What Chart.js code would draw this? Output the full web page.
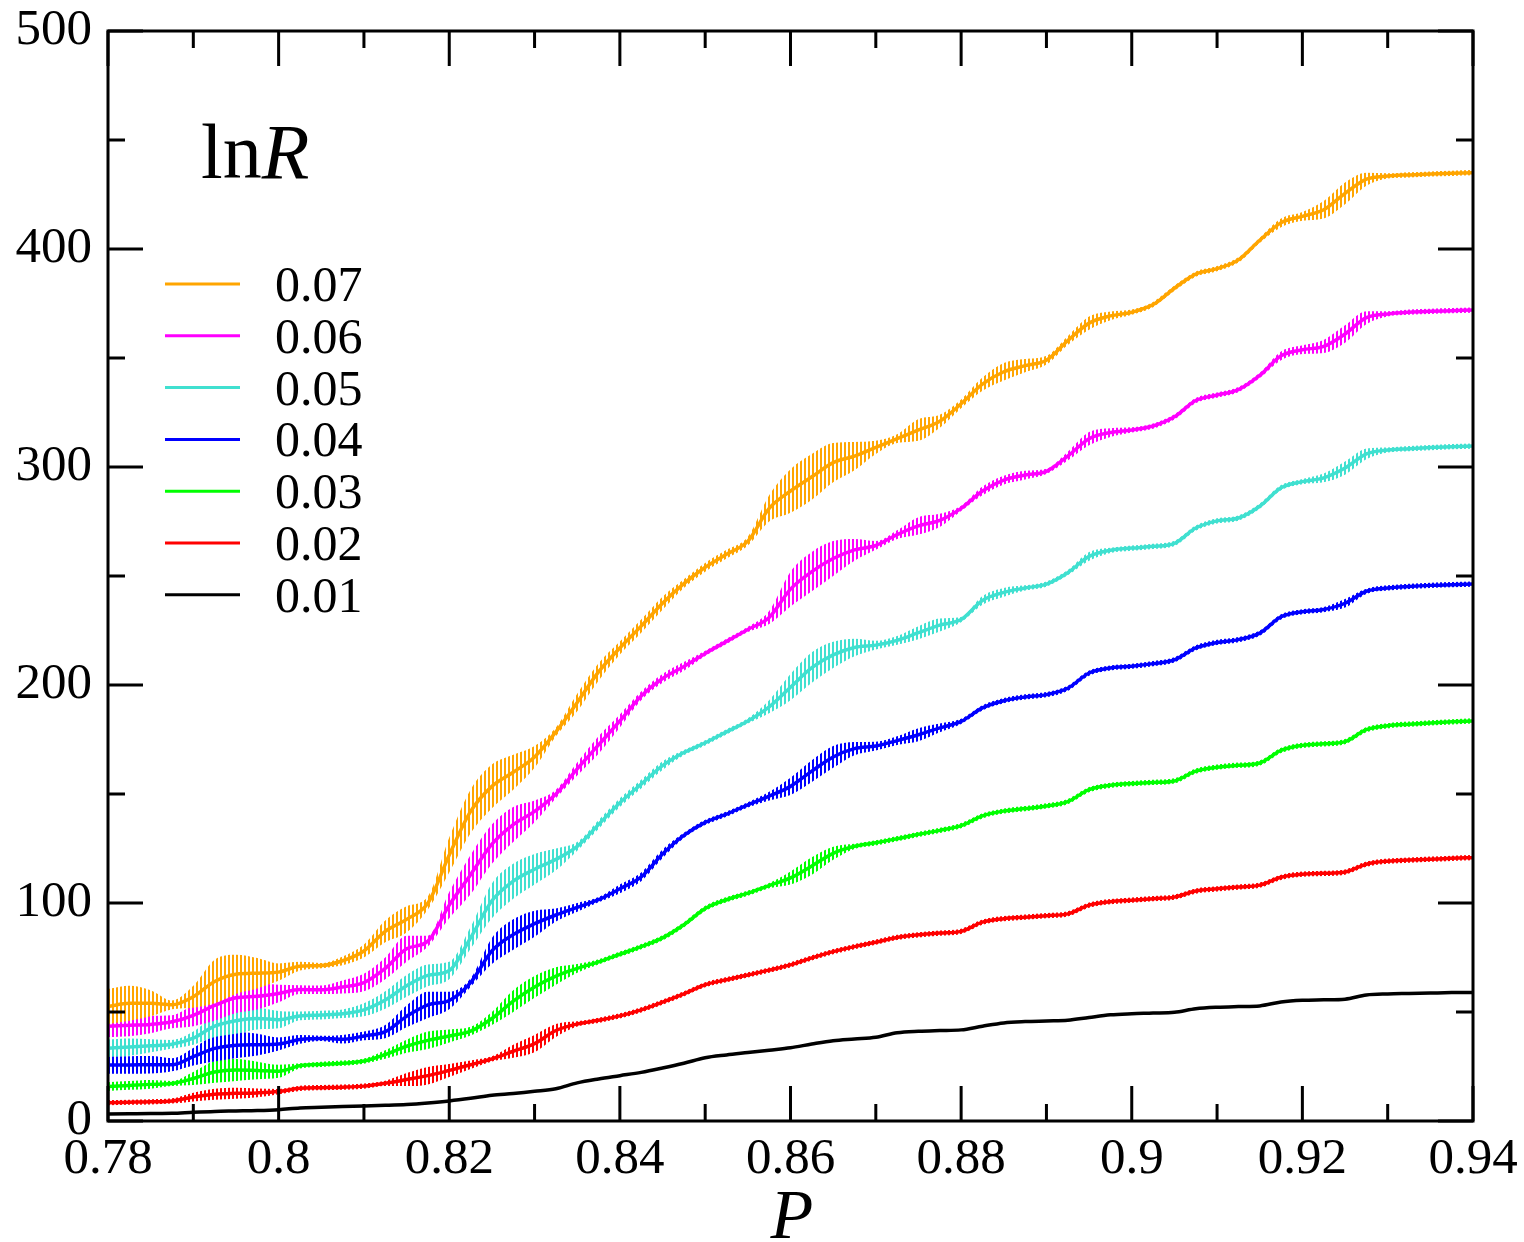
<!DOCTYPE html>
<html>
<head>
<meta charset="utf-8">
<title>lnR vs P</title>
<script src="https://cdn.jsdelivr.net/npm/chart.js@4.4.1/dist/chart.umd.min.js"></script>
<style>
    html, body { margin: 0; padding: 0; background: #fff; }
    #lnrChart { display: block; }
</style>
</head>
<body>
<canvas id="lnrChart" width="1524" height="1242"></canvas>
<script>
// P sample positions
const pValues = [
    0.78, 0.7825, 0.785, 0.7875, 0.79, 0.7925, 0.795, 0.7975, 0.8, 0.8025,
    0.805, 0.8075, 0.81, 0.8125, 0.815, 0.8175, 0.82, 0.8225, 0.825, 0.8275,
    0.83, 0.8325, 0.835, 0.8375, 0.84, 0.8425, 0.845, 0.8475, 0.85, 0.8525,
    0.855, 0.8575, 0.86, 0.8625, 0.865, 0.8675, 0.87, 0.8725, 0.875, 0.8775,
    0.88, 0.8825, 0.885, 0.8875, 0.89, 0.8925, 0.895, 0.8975, 0.9, 0.9025,
    0.905, 0.9075, 0.91, 0.9125, 0.915, 0.9175, 0.92, 0.9225, 0.925, 0.9275,
    0.93, 0.9325, 0.935, 0.9375, 0.94
];

// lnR for each value of the parameter
const lnR001 = [
    3.2, 3.3, 3.4, 3.5, 4.0, 4.4, 4.6, 4.8, 5.2, 6.0,
    6.3, 6.6, 6.9, 7.2, 7.6, 8.3, 9.2, 10.4, 11.8, 12.6,
    13.6, 14.8, 17.5, 19.3, 20.8, 22.3, 24.3, 26.5, 29.0, 30.3,
    31.4, 32.5, 33.6, 35.3, 36.8, 37.6, 38.4, 40.5, 41.2, 41.5,
    41.8, 43.5, 45.0, 45.6, 45.9, 46.2, 47.5, 48.7, 49.2, 49.5,
    49.9, 51.5, 52.2, 52.5, 52.8, 54.6, 55.4, 55.6, 55.9, 57.8,
    58.3, 58.5, 58.7, 58.9, 59.0
];
const lnR002 = [
    8.4, 8.6, 8.8, 9.2, 11.0, 12.3, 12.7, 12.9, 13.5, 15.0,
    15.3, 15.5, 16.0, 17.3, 19.0, 20.8, 23.2, 25.8, 28.5, 32.0,
    35.5, 41.5, 44.5, 46.2, 48.2, 51.0, 54.5, 58.3, 62.5, 64.8,
    67.0, 69.2, 71.6, 74.8, 77.7, 80.0, 82.0, 84.2, 85.4, 86.2,
    87.0, 91.2, 92.8, 93.5, 94.2, 95.0, 99.0, 100.6, 101.3, 102.0,
    102.7, 105.5, 106.5, 107.3, 108.2, 111.8, 113.2, 113.6, 114.2, 117.8,
    119.2, 119.7, 120.1, 120.5, 120.8
];
const lnR003 = [
    15.8, 16.3, 16.8, 17.2, 19.5, 22.5, 23.4, 23.2, 22.8, 25.3,
    26.0, 26.5, 27.5, 30.5, 34.3, 37.0, 39.0, 41.2, 47.0, 55.0,
    61.5, 66.5, 70.0, 73.0, 76.5, 80.0, 84.0, 90.0, 97.5, 101.5,
    104.5, 108.0, 111.5, 117.0, 122.8, 126.0, 127.6, 129.5, 131.5, 133.3,
    135.5, 140.0, 142.2, 143.3, 144.5, 146.5, 152.0, 154.0, 154.8, 155.3,
    156.0, 160.5, 162.3, 163.2, 164.2, 170.0, 172.3, 173.0, 174.0, 179.5,
    181.3, 182.0, 182.6, 183.1, 183.5
];
const lnR004 = [
    25.7, 25.7, 25.8, 25.8, 29.5, 33.3, 34.8, 35.0, 35.3, 37.4,
    37.9, 37.5, 39.0, 41.0, 48.0, 53.3, 55.3, 63.5, 78.0, 85.5,
    90.5, 94.5, 98.0, 101.5, 106.5, 112.0, 122.5, 131.0, 137.0, 140.8,
    145.0, 149.0, 153.5, 160.5, 167.0, 170.8, 172.0, 174.5, 177.2, 180.3,
    183.3, 189.5, 192.8, 194.5, 195.6, 198.5, 205.5, 207.8, 208.6, 209.8,
    211.5, 217.0, 219.5, 220.8, 223.8, 231.3, 233.6, 234.6, 237.5, 243.0,
    244.5, 245.2, 245.7, 246.0, 246.3
];
const lnR005 = [
    33.4, 33.9, 34.5, 35.2, 38.0, 43.5, 46.0, 47.0, 46.5, 48.2,
    48.6, 49.2, 51.0, 55.5, 62.0, 66.8, 69.0, 84.0, 101.0, 110.0,
    115.5, 120.0, 126.0, 136.0, 146.0, 154.5, 163.0, 169.0, 173.5, 178.5,
    183.5, 190.0, 199.0, 208.0, 213.8, 217.2, 218.3, 220.5, 224.0, 227.5,
    230.0, 238.8, 242.5, 244.5, 246.3, 251.5, 259.0, 261.8, 262.8, 263.6,
    265.0, 272.0, 275.3, 276.6, 282.0, 290.5, 293.3, 295.0, 299.5, 306.0,
    307.8, 308.4, 308.9, 309.3, 309.6
];
const lnR006 = [
    43.5, 43.9, 44.3, 45.5, 48.5, 53.0, 56.5, 57.2, 58.5, 60.3,
    60.2, 61.5, 63.5, 70.0, 79.0, 82.5, 99.0, 113.0, 127.0, 136.0,
    142.0, 150.0, 161.5, 172.5, 183.5, 195.0, 203.0, 208.5, 214.5, 220.0,
    225.5, 231.0, 244.0, 252.0, 258.0, 262.0, 264.0, 269.0, 273.0, 275.5,
    281.0, 289.0, 294.0, 296.3, 298.0, 305.0, 313.0, 315.8, 317.0, 318.8,
    323.0, 330.5, 333.0, 335.5, 342.0, 351.0, 353.8, 355.3, 361.0, 368.5,
    370.2, 371.0, 371.4, 371.7, 372.0
];
const lnR007 = [
    52.5, 54.0, 54.0, 53.3, 57.0, 64.0, 67.3, 67.8, 68.3, 71.0,
    71.3, 73.5, 78.0, 87.0, 92.5, 100.0, 122.0, 142.0, 153.5, 160.0,
    167.0, 178.5, 192.0, 206.0, 217.0, 227.0, 237.5, 246.5, 254.0, 260.0,
    266.0, 281.0, 289.0, 295.5, 302.0, 305.0, 309.0, 313.0, 317.0, 321.0,
    329.0, 338.0, 343.7, 346.5, 349.0, 358.0, 366.0, 369.3, 371.0, 374.5,
    382.0, 388.5, 391.0, 395.0, 404.0, 412.0, 415.0, 418.0, 425.5, 432.0,
    433.5, 434.0, 434.4, 434.7, 435.0
];

// half height of the oscillation band around each curve
const band002 = [
    1.2, 1.2, 1.2, 1.2, 2, 2.5, 2.5, 2, 1.2, 1.2,
    1.2, 1.2, 1.2, 1.2, 3, 4, 3, 2, 1.2, 3,
    4, 3, 1.2, 1.2, 1.2, 1.2, 1.2, 1.2, 1.2, 1.2,
    1.2, 1.2, 1.2, 1.2, 1.2, 1.2, 1.2, 1.2, 1.2, 1.2,
    1.2, 1.2, 1.2, 1.2, 1.2, 1.2, 1.2, 1.2, 1.2, 1.2,
    1.2, 1.2, 1.2, 1.2, 1.2, 1.2, 1.2, 1.2, 1.2, 1.2,
    1.2, 1.2, 1.2, 1.2, 1.2
];
const band003 = [
    2, 2, 2, 1.2, 3, 5, 5, 4, 3, 1.2,
    1.2, 1.2, 1.2, 2, 3, 4, 3, 2, 3, 5,
    5, 4, 2, 1.2, 1.2, 1.2, 1.2, 1.2, 1.2, 1.2,
    1.2, 1.2, 3, 4, 3, 1.2, 1.2, 1.2, 1.2, 1.2,
    1.2, 1.2, 1.2, 1.2, 1.2, 1.2, 1.2, 1.2, 1.2, 1.2,
    1.2, 1.2, 1.2, 1.2, 1.2, 1.2, 1.2, 1.2, 1.2, 1.2,
    1.2, 1.2, 1.2, 1.2, 1.2
];
const band004 = [
    4, 4, 4, 3, 4, 6, 6, 5, 3, 2,
    1.2, 2, 2, 3, 5, 6, 4, 2, 6, 7,
    6, 3, 2, 1.2, 2, 2, 2, 1.2, 1.2, 1.2,
    1.2, 2, 4, 5, 5, 3, 2, 2, 3, 2,
    1.2, 1.2, 1.2, 1.2, 1.2, 1.2, 1.2, 1.2, 1.2, 1.2,
    1.2, 1.2, 1.2, 1.2, 1.2, 1.2, 1.2, 1.2, 2, 1.2,
    1.2, 1.2, 1.2, 1.2, 1.2
];
const band005 = [
    4, 4, 3, 2, 3, 5, 6, 5, 4, 2,
    2, 2, 3, 4, 5, 5, 4, 5, 8, 8,
    7, 5, 2, 2, 2, 2, 2, 1.2, 1.2, 1.2,
    1.2, 3, 6, 7, 6, 4, 2, 2, 3, 3,
    1.2, 2, 2, 1.2, 1.2, 1.2, 2, 1.2, 1.2, 1.2,
    1.2, 1.2, 1.2, 1.2, 1.2, 1.2, 1.2, 2, 3, 2.5,
    1.2, 1.2, 1.2, 1.2, 1.2
];
const band006 = [
    5, 5, 4, 3, 5, 7, 7, 6, 4, 2,
    2, 3, 4, 5, 6, 2.5, 6, 9, 9, 8,
    5, 2, 3, 4, 3, 2, 2, 2, 1.2, 1.2,
    1.2, 3, 8, 9, 8, 5, 2, 2, 4, 3,
    1.2, 2, 2, 2, 1.2, 2, 3, 2, 1.2, 1.2,
    1.2, 1.2, 1.2, 1.2, 1.2, 2, 2, 3, 4, 3,
    1.2, 1.2, 1.2, 1.2, 1.2
];
const band007 = [
    8, 8, 6, 2, 5, 10, 9, 7, 4, 2,
    1.2, 2, 3, 5, 6, 3, 8, 10, 10, 8,
    5, 2, 4, 4, 3, 3, 3, 2, 2, 2,
    2, 6, 10, 10.5, 9, 6.5, 3, 2, 5, 3,
    2, 3, 4, 3, 2, 2, 3, 2, 1.2, 1.2,
    1.2, 1.2, 1.2, 1.2, 1.2, 2, 2, 4, 5, 3,
    1.2, 1.2, 1.2, 1.2, 1.2
];

const seriesLabels = ['0.07', '0.06', '0.05', '0.04', '0.03', '0.02', '0.01'];
const seriesColors = ['#ffa500', '#ff00ff', '#40e0d0', '#0000ff', '#00ff00', '#ff0000', '#000000'];
const seriesValues = [lnR007, lnR006, lnR005, lnR004, lnR003, lnR002, lnR001];
const seriesBands = [band007, band006, band005, band004, band003, band002, null];

const xTickValues = [0.78, 0.8, 0.82, 0.84, 0.86, 0.88, 0.9, 0.92, 0.94];
const xTickLabels = ['0.78', '0.8', '0.82', '0.84', '0.86', '0.88', '0.9', '0.92', '0.94'];
const xMinorValues = [0.79, 0.81, 0.83, 0.85, 0.87, 0.89, 0.91, 0.93];
const yTickValues = [0, 100, 200, 300, 400, 500];
const yTickLabels = ['0', '100', '200', '300', '400', '500'];
const yMinorValues = [50, 150, 250, 350, 450];

const serif = '"Liberation Serif", "Times New Roman", serif';

function stripePattern(color) {
    // thin vertical strokes, like the dense oscillation in the original
    const c = document.createElement('canvas');
    c.width = 4;
    c.height = 4;
    const g = c.getContext('2d');
    g.fillStyle = color;
    g.fillRect(0, 0, 2, 4);
    return g.createPattern(c, 'repeat');
}

function buildDatasets() {
    const datasets = [];
    seriesLabels.forEach((label, k) => {
        const vals = seriesValues[k];
        const band = seriesBands[k];
        datasets.push({
            label: label,
            data: pValues.map((p, i) => ({ x: p, y: vals[i] })),
            borderColor: seriesColors[k],
            borderWidth: 3.5,
            pointRadius: 0,
            fill: false,
            cubicInterpolationMode: 'monotone',
            order: 2 * k
        });
        if (band) {
            datasets.push({
                label: label + ' upper',
                data: pValues.map((p, i) => ({ x: p, y: vals[i] + band[i] })),
                borderWidth: 0,
                pointRadius: 0,
                backgroundColor: stripePattern(seriesColors[k]),
                fill: '+1',
                cubicInterpolationMode: 'monotone',
                order: 2 * k + 1
            });
            datasets.push({
                label: label + ' lower',
                data: pValues.map((p, i) => ({ x: p, y: vals[i] - band[i] })),
                borderWidth: 0,
                pointRadius: 0,
                fill: false,
                cubicInterpolationMode: 'monotone',
                order: 2 * k + 1
            });
        }
    });
    return datasets;
}

// frame, inside ticks on all four sides, legend and titles
const framePlugin = {
    id: 'framePlugin',
    afterDraw(chart) {
        const { ctx, chartArea: a, scales: { x, y } } = chart;
        ctx.save();
        ctx.strokeStyle = '#000';
        ctx.lineWidth = 3;
        ctx.beginPath();
        const major = 35, minor = 17;
        xTickValues.concat(xMinorValues).forEach((v, i) => {
            const len = i < xTickValues.length ? major : minor;
            const px = x.getPixelForValue(v);
            ctx.moveTo(px, a.bottom); ctx.lineTo(px, a.bottom - len);
            ctx.moveTo(px, a.top); ctx.lineTo(px, a.top + len);
        });
        yTickValues.concat(yMinorValues).forEach((v, i) => {
            const len = i < yTickValues.length ? major : minor;
            const py = y.getPixelForValue(v);
            ctx.moveTo(a.left, py); ctx.lineTo(a.left + len, py);
            ctx.moveTo(a.right, py); ctx.lineTo(a.right - len, py);
        });
        ctx.stroke();
        ctx.strokeRect(a.left, a.top, a.right - a.left, a.bottom - a.top);

        // legend
        ctx.fillStyle = '#000';
        ctx.font = '50px ' + serif;
        ctx.textAlign = 'left';
        ctx.textBaseline = 'alphabetic';
        seriesLabels.forEach((label, k) => {
            const ly = 284 + k * 51.8;
            ctx.strokeStyle = seriesColors[k];
            ctx.lineWidth = 3;
            ctx.beginPath();
            ctx.moveTo(165, ly);
            ctx.lineTo(240, ly);
            ctx.stroke();
            ctx.fillText(label, 275, ly + 17);
        });

        // legend title lnR
        ctx.font = '78px ' + serif;
        ctx.fillText('ln', 201, 178);
        const w = ctx.measureText('ln').width;
        ctx.font = 'italic 78px ' + serif;
        ctx.fillText('R', 201 + w, 178);

        // axis title
        ctx.font = 'italic 70px ' + serif;
        ctx.textAlign = 'center';
        ctx.fillText('P', 792, 1238);
        ctx.restore();
    }
};

new Chart(document.getElementById('lnrChart'), {
    type: 'line',
    data: { datasets: buildDatasets() },
    options: {
        responsive: false,
        animation: false,
        layout: { padding: { top: 31, right: 51, left: 0, bottom: 0 } },
        plugins: {
            legend: { display: false },
            tooltip: { enabled: false }
        },
        scales: {
            x: {
                type: 'linear',
                min: 0.78,
                max: 0.94,
                grid: { display: false, drawTicks: false },
                border: { display: false },
                afterBuildTicks: scale => { scale.ticks = xTickValues.map(v => ({ value: v })); },
                afterFit: scale => {
                    scale.height = 121;
                    scale.paddingLeft = 0;
                    scale.paddingRight = 0;
                },
                ticks: {
                    color: '#000',
                    padding: 8,
                    maxRotation: 0,
                    autoSkip: false,
                    font: { family: serif, size: 51 },
                    callback: v => xTickLabels[xTickValues.indexOf(v)]
                }
            },
            y: {
                min: 0,
                max: 500,
                grid: { display: false, drawTicks: false },
                border: { display: false },
                afterBuildTicks: scale => { scale.ticks = yTickValues.map(v => ({ value: v })); },
                afterFit: scale => {
                    scale.width = 108;
                    scale.paddingTop = 0;
                    scale.paddingBottom = 0;
                },
                ticks: {
                    color: '#000',
                    padding: 16,
                    autoSkip: false,
                    font: { family: serif, size: 51 },
                    callback: v => yTickLabels[yTickValues.indexOf(v)]
                }
            }
        }
    },
    plugins: [framePlugin]
});
</script>
</body>
</html>
